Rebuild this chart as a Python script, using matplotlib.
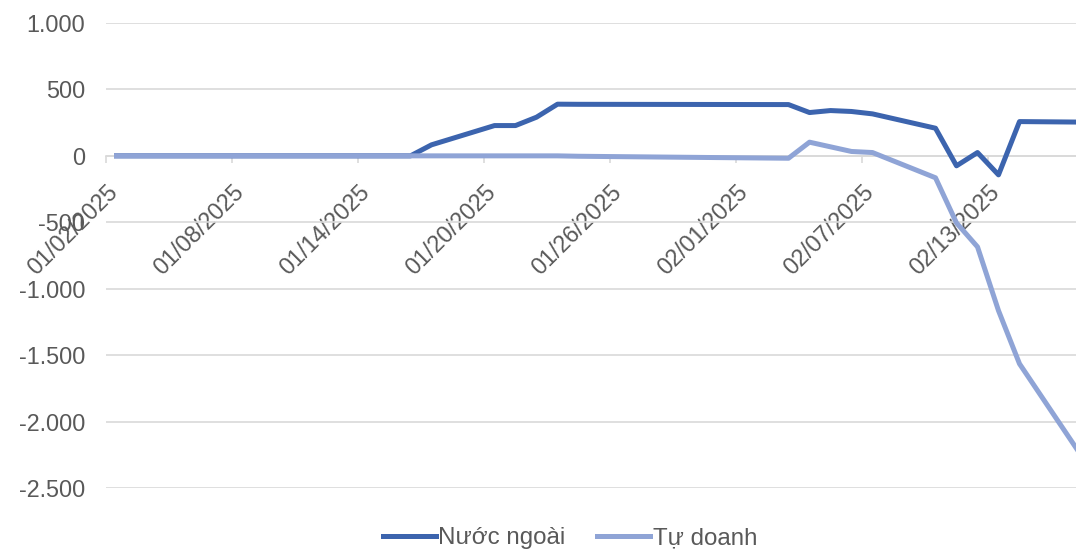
import numpy as np
import matplotlib.pyplot as plt
import matplotlib.transforms as mtransforms
from matplotlib.ticker import FuncFormatter, FixedLocator

plt.rcParams['font.family'] = ['Liberation Sans', 'DejaVu Sans']

# trading days (weekdays, Tet holiday skipped)
dates = ['2025-01-02', '2025-01-03', '2025-01-06', '2025-01-07', '2025-01-08',
         '2025-01-09', '2025-01-10', '2025-01-13', '2025-01-14', '2025-01-15',
         '2025-01-16', '2025-01-17', '2025-01-20', '2025-01-21', '2025-01-22',
         '2025-01-23', '2025-01-24', '2025-02-03', '2025-02-04', '2025-02-05',
         '2025-02-06', '2025-02-07', '2025-02-10', '2025-02-11', '2025-02-12',
         '2025-02-13', '2025-02-14', '2025-02-17']

nuoc_ngoai = [0, 0, 0, 0, 0, 0, 0, 0, 0, 0,
              0, 83, 228, 228, 291, 389, 388, 386, 326, 341,
              334, 316, 208, -75, 25, -143, 258, 254]

tu_doanh = [0, 0, 0, 0, 0, 0, 0, 0, 0, 0,
            0, 0, 0, 0, 0, 0, -3, -18, 103, 68,
            33, 25, -165, -505, -685, -1165, -1565, -2270]

tick_dates = ['01/02/2025', '01/08/2025', '01/14/2025', '01/20/2025',
              '01/26/2025', '02/01/2025', '02/07/2025', '02/13/2025']

start = np.datetime64('2025-01-02')
x = (np.array(dates, dtype='datetime64[D]') - start).astype(int)

dark = '#3c64ae'
light = '#8fa4d6'
grid_c = '#d9d9d9'
text_c = '#595959'
fs = 16.8

fig = plt.figure(figsize=(10.76, 5.5), dpi=100)
ax = fig.add_axes([106 / 1076, 1 - 488 / 550, 1 - 106 / 1076, (488 - 23) / 550])

ax.plot(x, nuoc_ngoai, color=dark, lw=3.6, label='Nước ngoài', zorder=3)
ax.plot(x, tu_doanh, color=light, lw=3.6, label='Tự doanh', zorder=3)

ax.set_xlim(-0.5, -0.5 + 970 / 21)
ax.set_ylim(-2500, 1000)

ax.set_yticks(np.arange(-2500, 1001, 500))
ax.yaxis.set_major_formatter(FuncFormatter(lambda v, p: f"{v:,.0f}".replace(",", ".")))
ax.grid(axis='y', color=grid_c, lw=1.2)
ax.set_axisbelow(True)

for s in ['top', 'right', 'left']:
    ax.spines[s].set_visible(False)
ax.spines['bottom'].set_position(('data', 0))
ax.spines['bottom'].set_color(grid_c)
ax.spines['bottom'].set_linewidth(1.2)

tick_pos = np.arange(len(tick_dates)) * 6 - 0.5
ax.xaxis.set_major_locator(FixedLocator(tick_pos))
ax.set_xticklabels(tick_dates, rotation=45, ha='right', va='center',
                   rotation_mode='anchor')
ax.tick_params(axis='x', length=5, color=grid_c, width=1.2, labelsize=fs,
               labelcolor=text_c, pad=4)
ax.tick_params(axis='y', length=0, labelsize=fs, labelcolor=text_c, pad=15)

# nudge the rotated date labels down/right like the original
shift = mtransforms.ScaledTranslation(0.08, -0.20, fig.dpi_scale_trans)
for lab in ax.get_xticklabels():
    lab.set_transform(lab.get_transform() + shift)

fig.legend(loc='center', bbox_to_anchor=(570 / 1076, 1 - 538 / 550), ncol=2,
           frameon=False, fontsize=17.4, labelcolor=text_c, handlelength=2.2,
           handletextpad=0.1, columnspacing=1.3, borderaxespad=0)

fig.savefig('out.png', dpi=100)
